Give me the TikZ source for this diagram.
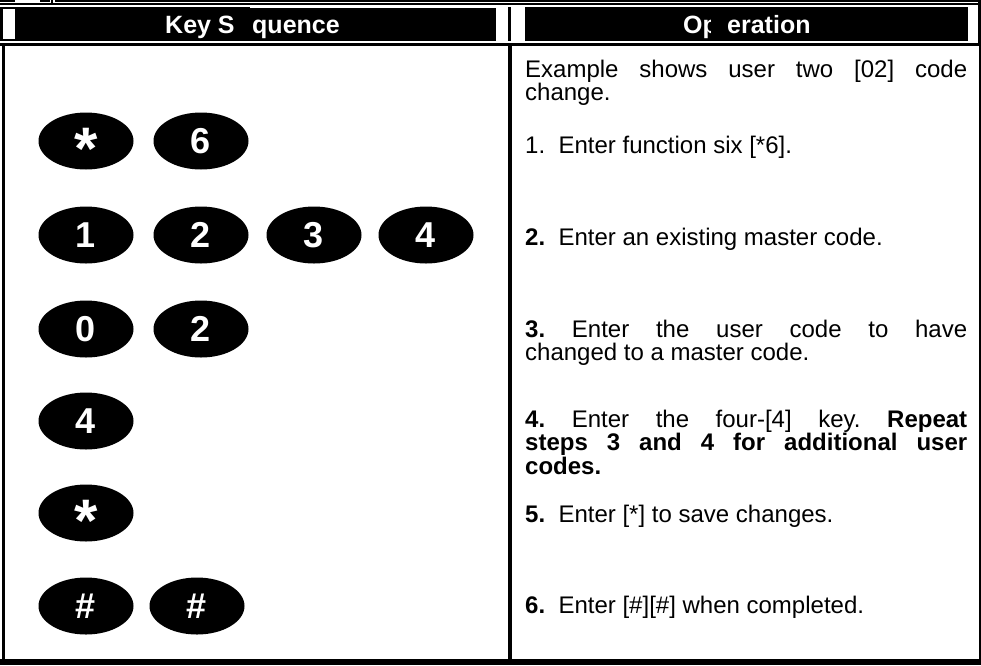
\documentclass[tikz,border=0pt]{standalone}
\usepackage{fontspec}
\setmainfont{Liberation Sans}
\usetikzlibrary{shapes.geometric}
\frenchspacing
\newcommand\keystar{{\fontsize{60}{60}\selectfont\raisebox{-0.47em}[0pt][0pt]{*}}}
\tikzset{
  keyb/.style={ellipse, fill=black, minimum width=95pt, minimum height=57pt, inner sep=0pt,
    text=white, font=\bfseries\fontsize{36}{36}\selectfont},
  hdr/.style={text=white, font=\bfseries\fontsize{25}{25}\selectfont, inner sep=0pt, anchor=base west},
  body/.style={anchor=base west, inner sep=0pt, text width=442pt, align=justify,
    font=\fontsize{24}{23.5}\selectfont\frenchspacing},
}
\begin{document}
\begin{tikzpicture}[x=1pt,y=-1pt]
\useasboundingbox (0,0) rectangle (981,665);
% top rules
\fill (0,0) rectangle (15,1.5);
\fill (40,0) rectangle (50,1.5);
\fill (51,0) rectangle (53,3);
\fill (55,0) rectangle (981,1.5);
\fill (0,3) rectangle (981,4.5);
% header bands
\fill (0,7) rectangle (496,41);
\fill[white] (3,9) rectangle (15,39);
\fill[white] (250,7) rectangle (496,8);
\fill (508,7) rectangle (511,41);
\fill (525,7) rectangle (968,41);
\fill (978,0) rectangle (981,45);
\fill (0,42.5) rectangle (981,45.5);
% body borders
\fill (2,45) rectangle (4.5,665);
\fill (508,45) rectangle (512,665);
\fill (979,45) rectangle (980.5,665);
\fill (0,659) rectangle (981,665);
% header text
\node[hdr] (h1a) at (165,33) {Key S};
\node[hdr] (h1b) at (252,33) {quence};
\node[hdr] (h2a) at (683,33) {Op};
\fill ([xshift=-7pt]h2a.south east) rectangle ([yshift=2pt]h2a.north east);
\node[hdr] (h2b) at (727,33) {eration};
% keys
\node[keyb] (k1a) at (86,141) {\keystar};
\node[keyb] (k1b) at (201,141) {6};
\node[keyb] (k2a) at (86,235) {1};
\node[keyb] (k2b) at (201,235) {2};
\node[keyb] (k2c) at (314,235) {3};
\node[keyb] (k2d) at (426,235) {4};
\node[keyb] (k3a) at (86,329) {0};
\node[keyb] (k3b) at (201,329) {2};
\node[keyb] (k4a) at (86,421) {4};
\node[keyb] (k5a) at (86,513) {\keystar};
\node[keyb] (k6a) at (86,606) {\#};
\node[keyb] (k6b) at (197,606) {\#};
% operation text
\node[body] (t0) at (525,77) {Example shows user two [02] code\linebreak change.};
\node[body] (t1) at (525,153) {1.\ \ Enter function six [*6].};
\node[body] (t2) at (525,245) {\textbf{2.}\ \ Enter an existing master code.};
\node[body] (t3) at (525,337) {\textbf{3.} Enter the user code to have\linebreak changed to a master code.};
\node[body] (t4) at (525,427) {\textbf{4.} Enter the four-[4] key. \textbf{Repeat}\linebreak \textbf{steps 3 and 4 for additional user}\linebreak \textbf{codes.}};
\node[body] (t5) at (525,522) {\textbf{5.}\ \ Enter [*] to save changes.};
\node[body] (t6) at (525,613) {\textbf{6.}\ \ Enter [\#][\#] when completed.};
\end{tikzpicture}
\end{document}
